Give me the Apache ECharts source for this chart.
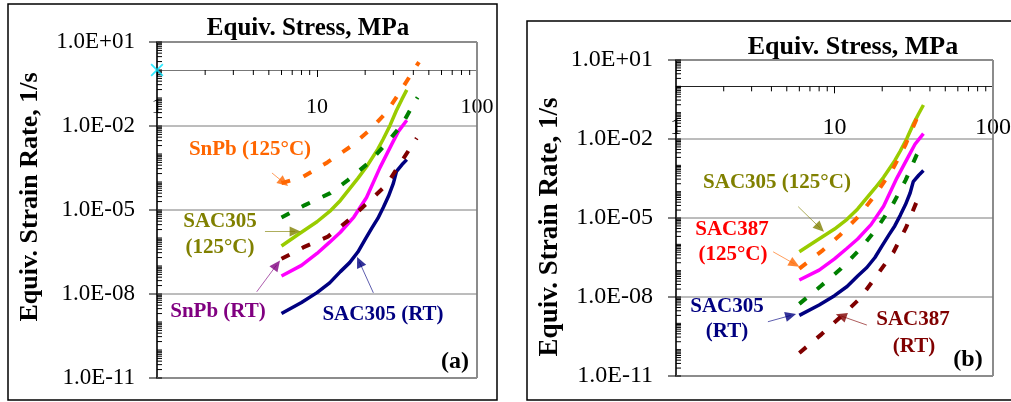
<!DOCTYPE html>
<html><head><meta charset="utf-8">
<script src="https://cdn.jsdelivr.net/npm/echarts@6/dist/echarts.min.js"></script>
<style>html,body{margin:0;padding:0;background:#fff}#c{width:1011px;height:402px}</style>
</head><body><div id="c"></div>
<script>
// ---------- data: [equivalent stress (MPa), equivalent strain rate (1/s)] ----------
// curves common to both panels
const sac305RT = [[6,2.0e-9],[8,5.0e-9],[10,1.12e-8],[12,2.5e-8],[14,6.3e-8],[16,1.32e-7],[18,3.16e-7],[20,8.9e-7],[22,2.24e-6],[24,5.0e-6],[26,1.26e-5],[28,3.16e-5],[30,8.9e-5],[31.4,2.4e-4],[34,4.2e-4],[36.4,6.3e-4]];
const sac305HT = [[6,5.2e-7],[7.5,1.26e-6],[10,3.8e-6],[12,8.9e-6],[14,2.2e-5],[18,1.35e-4],[20.4,3.5e-4],[24,1.5e-3],[26,3.5e-3],[28.6,1.05e-2],[31.3,3.5e-2],[33.9,8.9e-2],[36.4,0.195]];
const magentaCurve = [[6,4.4e-8],[8,1.05e-7],[10,2.8e-7],[12,7.1e-7],[14,1.6e-6],[17,5.6e-6],[20.4,2.8e-5],[24.7,3.2e-4],[29.4,2.3e-3],[32.2,6.3e-3],[36.4,1.6e-2]];
// panel (a)
const snpbHT = [[6,9.1e-5],[8.2,1.55e-4],[11.6,5.0e-4],[16.1,1.8e-3],[21.4,7.2e-3],[27.3,3.2e-2],[33,0.166],[40.9,1.15],[43.4,1.9]];
const greenDashA = [[6,5.4e-6],[8.4,1.5e-5],[12.1,4.0e-5],[15.6,1.17e-4],[20.9,4.7e-4],[26.6,2.1e-3],[33.9,1.1e-2],[40.9,7.4e-2],[42.5,0.105]];
const snpbRT = [[6,1.8e-7],[8.2,4.6e-7],[11.7,1.12e-6],[15.8,4.4e-6],[21,1.95e-5],[27.3,8.1e-5],[33,4.5e-4],[40,2.4e-3],[42,3.7e-3]];
const cyanMarker = [[1,1]];
// panel (b)
const sac387HT = [[6,1.2e-7],[8.3,5.5e-7],[10.8,2.2e-6],[14.2,1.17e-5],[18.4,8.7e-5],[23.2,6.9e-4],[28.1,6.2e-3],[33,5.9e-2],[34.5,9.5e-2]];
const greenDashB = [[6,5.5e-9],[8.2,2.6e-8],[11,1.2e-7],[14.5,6.6e-7],[18.4,3.8e-6],[23.4,3.4e-5],[28.1,2.75e-4],[33,2.5e-3],[34.2,3.8e-3]];
const sac387RT = [[6,7.5e-11],[8.3,3.9e-10],[11.1,1.9e-9],[14.5,8.9e-9],[18.4,6.3e-8],[23.5,4.9e-7],[28.3,4.4e-6],[33,4.2e-5],[34.2,6.3e-5]];

// ---------- axes / ticks ----------
const X_MIN_EXP = 0, X_MAX_EXP = 2;      // 1 .. 100 MPa
const Y_MIN_EXP = -11, Y_MAX_EXP = 1;    // 1e-11 .. 1e+1 1/s
const xTickLabels = ['1', '10', '100'];
const yLabelExps = [1, -2, -5, -8, -11];
const gridExps = [-2, -5, -8];
const minorMults = [2, 3, 4, 5, 6, 7, 8, 9];

// ---------- annotation arrows (from -> to, in data units) ----------
const arrowsA = [
  {from:[5.23,2.1e-4], to:[6.2,9.5e-5], color:'#FF6600'},
  {from:[4.73,1.7e-6], to:[7.3,1.7e-6], color:'#808000'},
  {from:[4.2,1.2e-8], to:[5.6,1.1e-7], color:'#800080'},
  {from:[22.5,1.1e-8], to:[18.4,1.4e-7], color:'#000080'}
];
const arrowsB = [
  {from:[5.9,2.7e-5], to:[8.1,4.2e-6], color:'#808000'},
  {from:[4.1,5.2e-7], to:[5.6,1.8e-7], color:'#FF6600'},
  {from:[3.8,1.15e-9], to:[5.3,2.0e-9], color:'#000080'},
  {from:[16.0,8.6e-10], to:[11.0,1.9e-9], color:'#800000'}
];

const SERIF = '"Liberation Serif","Times New Roman",serif';
const L = Math.log10;
const toLog = arr => arr.map(p => [L(p[0]), L(p[1])]);

const grids = [
  {left:157, top:42, width:320, height:336},
  {left:676, top:60, width:317, height:316}
];
const axisStyle = [
  {yFs:23, yMargin:22, xFs:22, xMargin:26, xLine:'#777'},
  {yFs:24, yMargin:23, xFs:24, xMargin:29, xLine:'#222'}
];

function yFmt(v) {
  const e = Math.round(v);
  if (yLabelExps.indexOf(e) < 0) return '';
  return '1.0E' + (e >= 0 ? '+' : '-') + String(Math.abs(e)).padStart(2, '0');
}
function xFmt(v) { const i = Math.round(v); return xTickLabels[i] || ''; }

function tickData() {
  const d = [];
  for (let e = Y_MIN_EXP; e < Y_MAX_EXP; e++) {
    d.push([X_MIN_EXP, e, 0, 5]);
    minorMults.forEach(m => d.push([X_MIN_EXP, e + L(m), 0, 5]));
  }
  d.push([X_MIN_EXP, Y_MAX_EXP, 0, 5]);
  yLabelExps.forEach(e => d.push([X_MIN_EXP, e, 0, -8]));
  for (let e = X_MIN_EXP; e < X_MAX_EXP; e++) {
    minorMults.forEach(m => d.push([e + L(m), 0, 1, 5]));
  }
  return d;
}
function renderTick(params, api) {
  const p = api.coord([api.value(0), api.value(1)]);
  const dir = api.value(2), len = api.value(3);
  const x2 = dir === 0 ? p[0] + len : p[0];
  const y2 = dir === 0 ? p[1] : p[1] + len;
  return {type:'line', shape:{x1:p[0], y1:p[1], x2:x2, y2:y2}, style:{stroke:'#000', lineWidth:1}};
}
function renderGridLine(params, api) {
  const y = api.value(1);
  const a = api.coord([X_MIN_EXP, y]), b = api.coord([X_MAX_EXP, y]);
  return {type:'line', shape:{x1:a[0], y1:a[1], x2:b[0], y2:b[1]}, style:{stroke:'#7a7a7a', lineWidth:1}};
}
function renderFrame(params, api) {
  const a = api.coord([X_MIN_EXP, Y_MAX_EXP]), b = api.coord([X_MAX_EXP, Y_MIN_EXP]);
  const st = {stroke:'#8c8c8c', lineWidth:2, fill:'none'};
  return {type:'group', children:[
    {type:'line', shape:{x1:a[0], y1:a[1], x2:b[0], y2:a[1]}, style:st},
    {type:'line', shape:{x1:b[0], y1:a[1], x2:b[0], y2:b[1]}, style:st},
    {type:'line', shape:{x1:a[0], y1:b[1], x2:b[0], y2:b[1]}, style:st}
  ]};
}

const xAxes = [], yAxes = [];
grids.forEach((g, i) => {
  const s = axisStyle[i];
  xAxes.push({
    type:'value', gridIndex:i, min:X_MIN_EXP, max:X_MAX_EXP, interval:1,
    position:'top', offset: -g.height * (Y_MAX_EXP - 0) / (Y_MAX_EXP - Y_MIN_EXP),
    axisLine:{show:true, onZero:false, lineStyle:{color:s.xLine, width:1.2}},
    axisTick:{show:true, inside:true, length:7, lineStyle:{color:'#000', width:1}},
    axisLabel:{inside:true, margin:s.xMargin, fontFamily:SERIF, fontSize:s.xFs, color:'#000',
      formatter:xFmt, showMinLabel:true, showMaxLabel:true, hideOverlap:false},
    splitLine:{show:false}
  });
  yAxes.push({
    type:'value', gridIndex:i, min:Y_MIN_EXP, max:Y_MAX_EXP, interval:1, position:'left',
    axisLine:{show:true, onZero:false, lineStyle:{color:'#000', width:1.6}},
    axisTick:{show:false},
    axisLabel:{margin:s.yMargin, fontFamily:SERIF, fontSize:s.yFs, color:'#000', formatter:yFmt,
      showMinLabel:true, showMaxLabel:true, hideOverlap:false},
    splitLine:{show:false}
  });
});

function curve(name, data, gi, color, dashed, z) {
  return {
    name, type:'line', xAxisIndex:gi, yAxisIndex:gi, data:toLog(data),
    showSymbol:false, symbol:'none', smooth:false, silent:true, z: z || 3,
    lineStyle: dashed ? {color, width:4, type:[9, 14], cap:'butt'} : {color, width:3.5, type:'solid'},
    itemStyle:{color}, clip:false
  };
}
function arrowMarks(arrows) {
  return {
    silent:true, symbol:['none','triangle'], symbolSize:[10, 11], animation:false,
    label:{show:false},
    data: arrows.map(a => [
      {coord:[L(a.from[0]), L(a.from[1])], lineStyle:{color:a.color, width:0.8, type:'solid', opacity:0.8}},
      {coord:[L(a.to[0]), L(a.to[1])]}
    ])
  };
}

const series = [];
[0, 1].forEach(gi => {
  series.push({type:'custom', name:'frame'+gi, xAxisIndex:gi, yAxisIndex:gi, coordinateSystem:'cartesian2d',
    data: [[X_MIN_EXP, Y_MIN_EXP]], renderItem: renderFrame, z:1, silent:true, clip:false});
  series.push({type:'custom', name:'grid'+gi, xAxisIndex:gi, yAxisIndex:gi, coordinateSystem:'cartesian2d',
    data: gridExps.map(e => [X_MIN_EXP, e]), renderItem: renderGridLine, z:1, silent:true, clip:false});
  series.push({type:'custom', name:'ticks'+gi, xAxisIndex:gi, yAxisIndex:gi, coordinateSystem:'cartesian2d',
    data: tickData(), renderItem: renderTick, z:6, silent:true, clip:false});
});
// panel (a)
series.push(curve('SAC305 (125°C)', sac305HT, 0, '#99CC00', false));
series.push(Object.assign(curve('Magenta', magentaCurve, 0, '#FF00FF', false), {markLine: arrowMarks(arrowsA)}));
series.push(curve('SAC305 (RT)', sac305RT, 0, '#000080', false));
series.push(curve('SnPb (125°C)', snpbHT, 0, '#FF6600', true, 4));
series.push(curve('Green dashed (a)', greenDashA, 0, '#008000', true, 4));
series.push(curve('SnPb (RT)', snpbRT, 0, '#800000', true, 4));
series.push({type:'scatter', name:'marker', xAxisIndex:0, yAxisIndex:0, data:toLog(cyanMarker), z:7, clip:false,
  symbol:'path://M1,0L5,4L9,0L10,1L6,5L10,9L9,10L5,6L1,10L0,9L4,5L0,1Z', symbolSize:13,
  itemStyle:{color:'#00E5FF'}, silent:true});
// panel (b)
series.push(curve('SAC305 (125°C) b', sac305HT, 1, '#99CC00', false));
series.push(Object.assign(curve('Magenta b', magentaCurve, 1, '#FF00FF', false), {markLine: arrowMarks(arrowsB)}));
series.push(curve('SAC305 (RT) b', sac305RT, 1, '#000080', false));
series.push(curve('SAC387 (125°C)', sac387HT, 1, '#FF6600', true, 4));
series.push(curve('Green dashed (b)', greenDashB, 1, '#008000', true, 4));
series.push(curve('SAC387 (RT)', sac387RT, 1, '#800000', true, 4));

function txt(t, x, y, size, color, rot) {
  return {type:'text', x, y, rotation: rot || 0, silent:true, z:10,
    style:{text:t, fill:color, font:'bold ' + size + 'px ' + SERIF, align:'center', verticalAlign:'middle'}};
}

const graphic = [
  {type:'rect', shape:{x:8, y:4, width:489, height:396}, style:{fill:'none', stroke:'#000', lineWidth:1.5}, silent:true, z:10},
  {type:'rect', shape:{x:527, y:21, width:500, height:379}, style:{fill:'none', stroke:'#000', lineWidth:1.5}, silent:true, z:10},
  txt('Equiv. Stress, MPa', 308, 29, 25, '#000'),
  txt('Equiv. Strain Rate, 1/s', 30, 197, 26, '#000', Math.PI/2),
  txt('SnPb (125°C)', 250, 150, 21, '#FF6600'),
  txt('SAC305', 220, 222, 21, '#808000'),
  txt('(125°C)', 220, 248, 21, '#808000'),
  txt('SnPb (RT)', 218, 312, 21, '#800080'),
  txt('SAC305 (RT)', 383, 315, 21, '#000080'),
  txt('(a)', 455, 362, 24, '#000'),
  txt('Equiv. Stress, MPa', 853, 47, 26, '#000'),
  txt('Equiv. Strain Rate, 1/s', 550, 227, 27, '#000', Math.PI/2),
  txt('SAC305 (125°C)', 777, 183, 21, '#808000'),
  txt('SAC387', 732, 230, 21, '#FF0000'),
  txt('(125°C)', 733, 255, 21, '#FF0000'),
  txt('SAC305', 727, 307, 21, '#000080'),
  txt('(RT)', 727, 332, 21, '#000080'),
  txt('SAC387', 913, 320, 21, '#800000'),
  txt('(RT)', 914, 347, 21, '#800000'),
  txt('(b)', 968, 360, 24, '#000')
];

const chart = echarts.init(document.getElementById('c'), null, {renderer:'canvas', width:1011, height:402});
chart.setOption({
  animation:false,
  backgroundColor:'#fff',
  grid: grids.map(g => Object.assign({show:false, containLabel:false, outerBoundsMode:'none'}, g)),
  xAxis: xAxes,
  yAxis: yAxes,
  series,
  graphic
});
</script></body></html>
